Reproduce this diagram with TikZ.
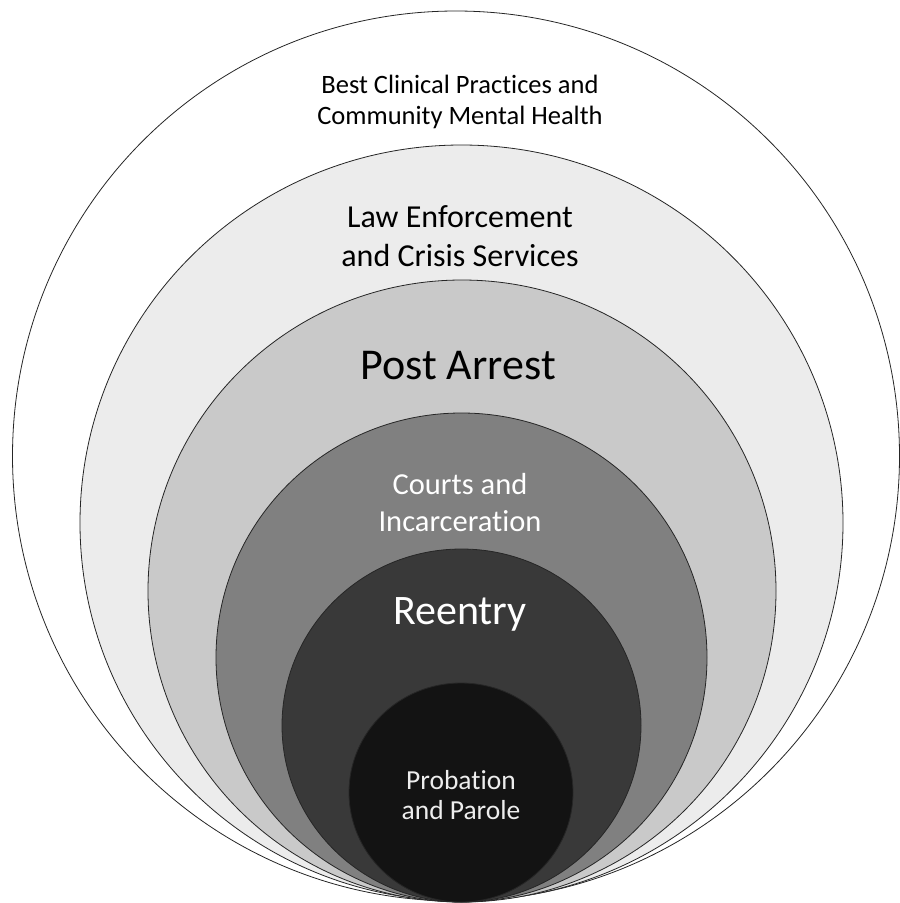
\documentclass[tikz,border=0pt]{standalone}
\usepackage{fontspec}
\setmainfont{Carlito}[Ligatures={NoCommon,NoRare,NoContextual}]
\begin{document}
\begin{tikzpicture}[x=1pt,y=-1pt]

    \tikzset{
      ring/.style={
        draw=black!85,
        line width=0.8pt,
      },
      label/.style={
        align=center,
        inner sep=0pt,
      },
    }
    \definecolor{ringA}{gray}{1.00}
    \definecolor{ringB}{gray}{0.925}
    \definecolor{ringC}{gray}{0.79}
    \definecolor{ringD}{gray}{0.50}
    \definecolor{ringE}{gray}{0.225}
    \definecolor{ringF}{gray}{0.075}
    \useasboundingbox (0,0) rectangle (900,903);
	\draw[ring,fill=ringA] (456,456) ellipse [x radius=443.5, y radius=445];
	\draw[ring,fill=ringB] (461.5,523) ellipse [x radius=381.5, y radius=378];
	\draw[ring,fill=ringC] (462,591) ellipse [x radius=314, y radius=311];
	\draw[ring,fill=ringD] (461.5,657.5) ellipse [x radius=245.5, y radius=244.5];
	\draw[ring,fill=ringE] (461.5,725.5) ellipse [x radius=179.5, y radius=176.5];
	\draw[ring,fill=ringF] (461,792.5) ellipse [x radius=112, y radius=109.5];

	\node[label,font=\fontsize{26.5}{31}\selectfont] (best) at (460,102) {Best Clinical Practices and\\Community Mental Health};
	\node[label,font=\fontsize{32}{39}\selectfont] (law) at (460,236) {Law Enforcement\\and Crisis Services};
	\node[label,font=\fontsize{44}{50}\selectfont] (post) at (458,366) {Post Arrest};
	\node[label,text=white,font=\fontsize{30.5}{37}\selectfont] (courts) at (460,503) {Courts and\\Incarceration};
	\node[label,text=white,font=\fontsize{42}{48}\selectfont] (reentry) at (460,614) {Reentry};
	\node[label,text=black!7,font=\fontsize{27.5}{30}\selectfont] (probation) at (461,795) {Probation\\and Parole};

\end{tikzpicture}
\end{document}
